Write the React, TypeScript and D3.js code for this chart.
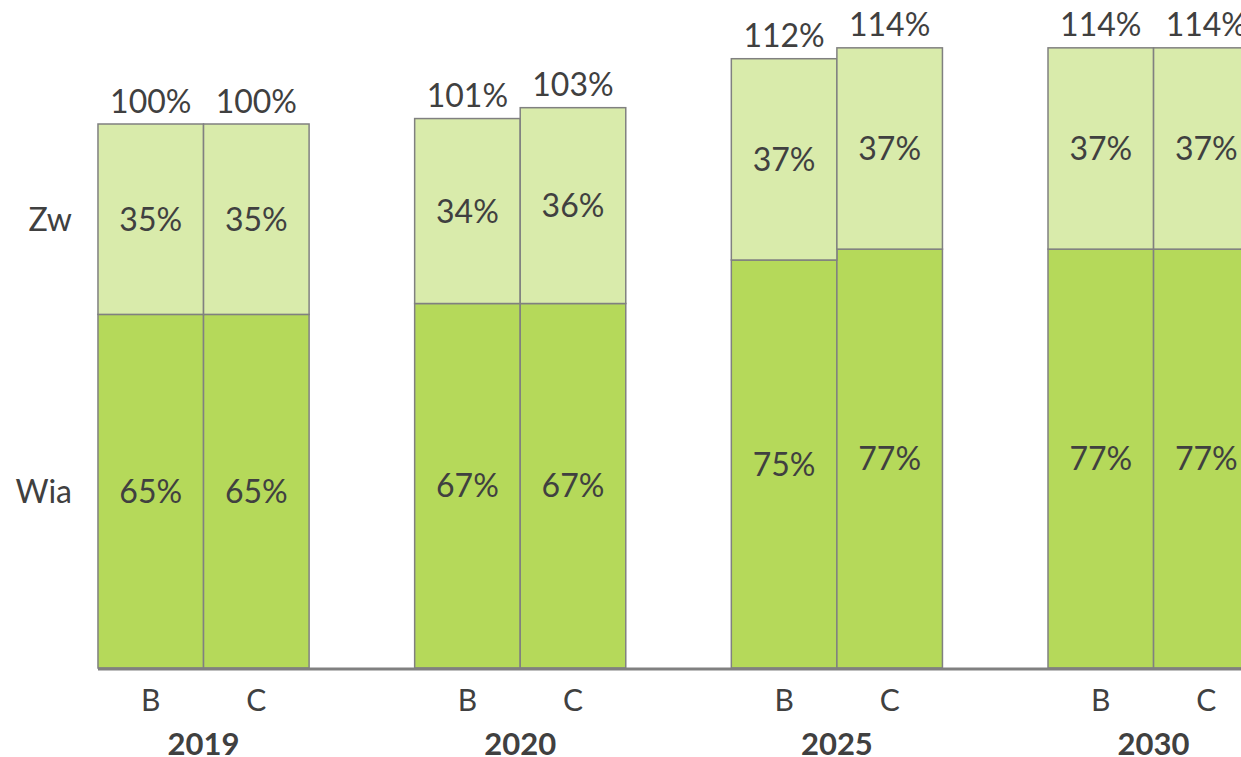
import React from "react";
import * as d3 from "d3";

const years = ["2019", "2020", "2025", "2030"];
const scenarios = ["B", "C"];
const series = ["Wia", "Zw"];
// values per year, per scenario
const wiaValues = [
  [65, 65],
  [67, 67],
  [75, 77],
  [77, 77],
];
const zwValues = [
  [35, 35],
  [34, 36],
  [37, 37],
  [37, 37],
];
const totalValues = [
  [100, 100],
  [101, 103],
  [112, 114],
  [114, 114],
];

const W = 1241;
const H = 757;
const baseY = 668;
const FONT = "Lato, 'Open Sans', sans-serif";
const TEXT = "#404040";
const colors: Record<string, string> = { Wia: "#b5d95a", Zw: "#d9ebab" };

export default function App() {
  const x0 = d3
    .scaleBand<string>()
    .domain(years)
    .range([45.2, 1311.9])
    .paddingInner(1 / 3)
    .paddingOuter(1 / 6);
  const x1 = d3.scaleBand<string>().domain(scenarios).range([0, x0.bandwidth()]);
  const y = d3.scaleLinear().domain([0, 100]).range([baseY, 124]);

  const rows = years.flatMap((yr, i) =>
    scenarios.map((sc, j) => ({
      yr,
      sc,
      Wia: wiaValues[i][j],
      Zw: zwValues[i][j],
      total: totalValues[i][j],
    }))
  );
  const stacked = d3.stack<any>().keys(series)(rows);

  return (
    <svg
      width={W}
      height={H}
      style={{ position: "absolute", left: 0, top: 0, background: "#fff" }}
      fontFamily={FONT}
    >
      {stacked.map((layer) => (
        <g key={layer.key}>
          {layer.map((d, k) => {
            const r = d.data;
            const x = (x0(r.yr) ?? 0) + (x1(r.sc) ?? 0);
            const y0 = y(d[1]);
            const y1 = y(d[0]);
            return (
              <g key={k}>
                <rect
                  x={x}
                  y={y0}
                  width={x1.bandwidth()}
                  height={y1 - y0}
                  fill={colors[layer.key]}
                  stroke="#808080"
                  strokeWidth={1.5}
                />
                <text
                  x={x + x1.bandwidth() / 2}
                  y={(y0 + y1) / 2}
                  dy="0.36em"
                  textAnchor="middle"
                  fontSize={32}
                  fill={TEXT}
                >
                  {r[layer.key]}%
                </text>
              </g>
            );
          })}
        </g>
      ))}
      {rows.map((r, k) => {
        const x = (x0(r.yr) ?? 0) + (x1(r.sc) ?? 0) + x1.bandwidth() / 2;
        return (
          <text
            key={"t" + k}
            x={x}
            y={y(r.Wia + r.Zw) - 23}
            dy="0.36em"
            textAnchor="middle"
            fontSize={32}
            fill={TEXT}
          >
            {r.total}%
          </text>
        );
      })}
      <line
        x1={x0(years[0])}
        x2={W}
        y1={baseY + 1}
        y2={baseY + 1}
        stroke="#808080"
        strokeWidth={3}
      />
      {years.map((yr) =>
        scenarios.map((sc) => (
          <text
            key={yr + sc}
            x={(x0(yr) ?? 0) + (x1(sc) ?? 0) + x1.bandwidth() / 2}
            y={700}
            dy="0.36em"
            textAnchor="middle"
            fontSize={30}
            fill={TEXT}
          >
            {sc}
          </text>
        ))
      )}
      {years.map((yr) => (
        <text
          key={"y" + yr}
          x={(x0(yr) ?? 0) + x0.bandwidth() / 2}
          y={744}
          dy="0.36em"
          textAnchor="middle"
          fontSize={31}
          fontWeight="bold"
          fill={TEXT}
        >
          {yr}
        </text>
      ))}
      {series.map((s, i) => {
        const layer = stacked[i][0];
        return (
          <text
            key={"s" + s}
            x={72}
            y={(y(layer[0]) + y(layer[1])) / 2}
            dy="0.36em"
            textAnchor="end"
            fontSize={32}
            fill={TEXT}
          >
            {s}
          </text>
        );
      })}
    </svg>
  );
}
